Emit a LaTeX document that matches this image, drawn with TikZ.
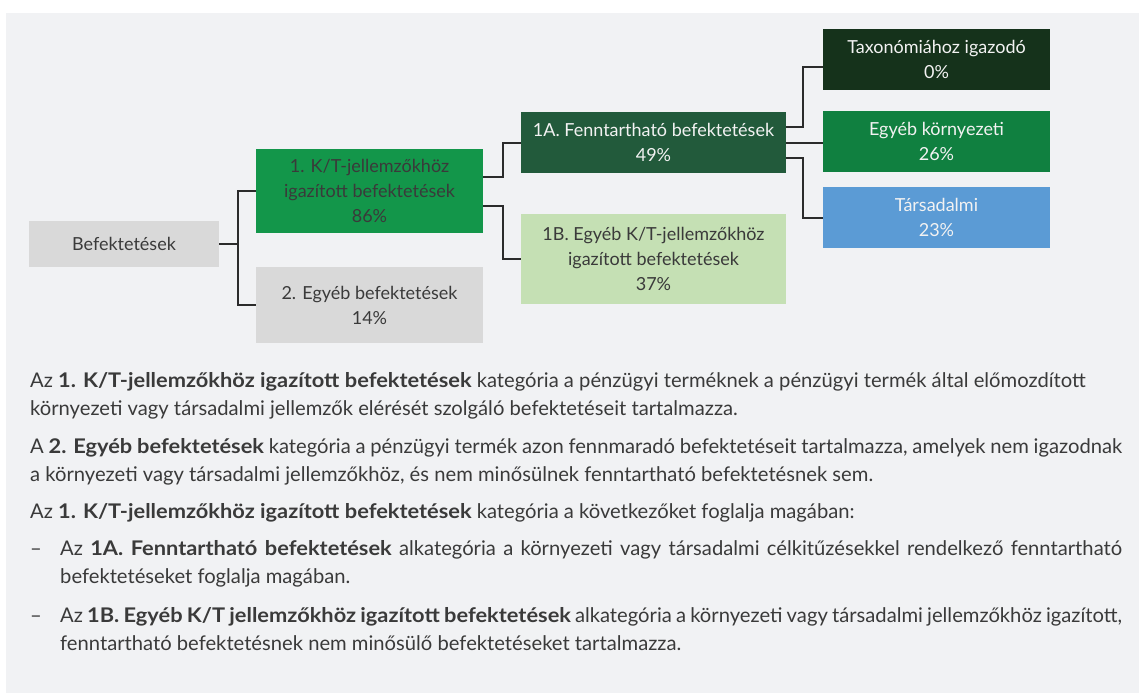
\documentclass[tikz,border=0pt]{standalone}
\usepackage{fontspec}
\setmainfont{Lato}[BoldFeatures={FakeStretch=1.08}]
\definecolor{panel}{HTML}{F1F2F4}
\definecolor{boxgray}{HTML}{D9D9D9}
\definecolor{ktgreen}{HTML}{13964A}
\definecolor{fenntgreen}{HTML}{225A3B}
\definecolor{taxogreen}{HTML}{15321B}
\definecolor{kornygreen}{HTML}{108040}
\definecolor{tarsblue}{HTML}{5B9BD5}
\definecolor{lightgreen}{HTML}{C5E0B4}
\definecolor{inkgray}{HTML}{3A3A3A}
\definecolor{wire}{HTML}{2B2B2B}
\tikzstyle{category}=[minimum height=61pt, inner sep=0, align=center, font=\fontsize{18}{25}\selectfont, text=inkgray]
\tikzstyle{dark category}=[category, text=white!95!black]
\tikzstyle{connector}=[draw=wire, line width=2pt]
\tikzstyle{note}=[anchor=base west, inner sep=0, text width=1092pt, align=justify, font=\fontsize{20.2}{28}\selectfont, text=inkgray]

\begin{document}
\begin{tikzpicture}[x=1pt, y=-1pt]
      \useasboundingbox (0, 0) rectangle (1139, 696);
      \fill[white] (0, 0) rectangle (1139, 696);
      \fill[panel] (6, 13) rectangle (1139, 693);

      \node[category, fill=boxgray, minimum width=190pt, minimum height=46pt] (befektetesek) at (124, 244) {Befektetések};

      \node[category, fill=ktgreen, minimum width=227pt, minimum height=84pt] (kt) at (369.5, 191) {1. K/T-jellemzőkhöz\\igazított befektetések\\86\%};
      \node[category, fill=boxgray, minimum width=227pt, minimum height=76pt] (egyeb) at (369.5, 305) {2. Egyéb befektetések\\14\%};

      \node[dark category, fill=fenntgreen, minimum width=265pt] (fenntarthato) at (653.5, 142.5) {1A. Fenntartható befektetések\\49\%};
      \node[category, fill=lightgreen, minimum width=265pt, minimum height=90pt] (egyebkt) at (653.5, 259) {1B. Egyéb K/T-jellemzőkhöz\\igazított befektetések\\37\%};

      \node[dark category, fill=taxogreen, minimum width=227pt] (taxonomia) at (936.5, 59.5) {Taxonómiához igazodó\\0\%};
      \node[dark category, fill=kornygreen, minimum width=227pt] (kornyezeti) at (936.5, 141.5) {Egyéb környezeti\\26\%};
      \node[dark category, fill=tarsblue, minimum width=227pt] (tarsadalmi) at (936.5, 217.5) {Társadalmi\\23\%};

      \draw[connector] (befektetesek.east) -- ++(19, 0) |- (kt.west);
      \draw[connector] (befektetesek.east) -- ++(19, 0) |- (egyeb.west);
      \draw[connector] ([yshift=14pt]kt.east) -- ++(20, 0) |- (fenntarthato.west);
      \draw[connector] ([yshift=-15pt]kt.east) -- ++(20, 0) |- (egyebkt.west);
      \draw[connector] ([yshift=15.5pt]fenntarthato.east) -- ++(17, 0) |- ([yshift=-7.5pt]taxonomia.west);
      \draw[connector] (fenntarthato.east) -- (fenntarthato.east -| kornyezeti.west);
      \draw[connector] ([yshift=-15.5pt]fenntarthato.east) -- ++(17, 0) |- (tarsadalmi.west);

      \node[note] (kt_note) at (30, 387) {Az \textbf{1. K/T-jellemzőkhöz igazított befektetések} kategória a pénzügyi terméknek a pénzügyi termék által előmozdított\newline környezeti vagy társadalmi jellemzők elérését szolgáló befektetéseit tartalmazza.};
      \node[note] (egyeb_note) at (30, 453) {A \textbf{2. Egyéb befektetések} kategória a pénzügyi termék azon fennmaradó befektetéseit tartalmazza, amelyek nem igazodnak\linebreak a környezeti vagy társadalmi jellemzőkhöz, és nem minősülnek fenntartható befektetésnek sem.};
      \node[note] (kt_list) at (30, 518) {Az \textbf{1. K/T-jellemzőkhöz igazított befektetések} kategória a következőket foglalja magában:};
      \node[note] (fenntarthato_note) at (30, 555) {\hangindent=30pt\hangafter=1\makebox[30pt][l]{–}Az \textbf{1A. Fenntartható befektetések} alkategória a környezeti vagy társadalmi célkitűzésekkel rendelkező fenntartható\linebreak befektetéseket foglalja magában.\par};
      \node[note] (egyebkt_note) at (30, 622) {\hangindent=30pt\hangafter=1\makebox[30pt][l]{–}Az \textbf{1B. Egyéb K/T jellemzőkhöz igazított befektetések} alkategória a környezeti vagy társadalmi jellemzőkhöz igazított,\linebreak fenntartható befektetésnek nem minősülő befektetéseket tartalmazza.\par};
    \end{tikzpicture}
\end{document}
